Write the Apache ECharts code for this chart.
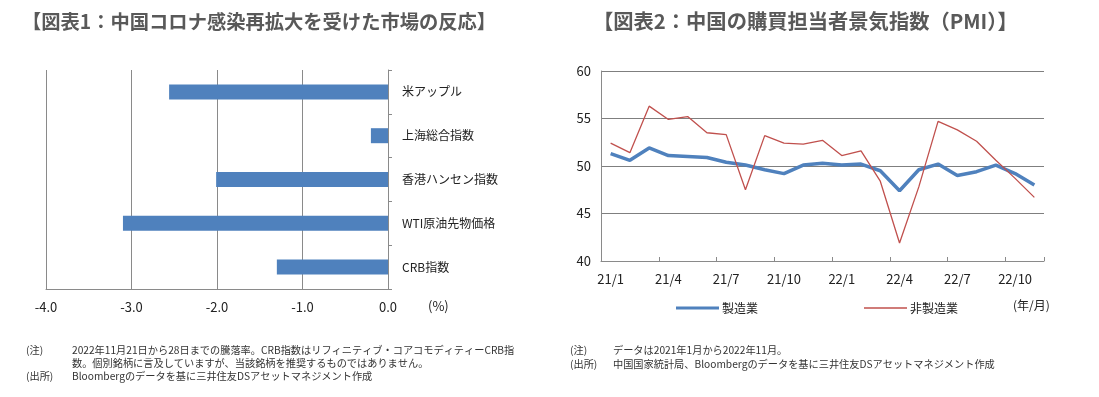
<!DOCTYPE html>
<html>
<head>
<meta charset="utf-8">
<script src="https://cdn.jsdelivr.net/npm/echarts@6/dist/echarts.min.js"></script>
<style>
  html, body { margin: 0; padding: 0; background: #fff; }
  #main { width: 1099px; height: 397px; }
</style>
</head>
<body>
<div id="main"></div>
<script type="text/javascript">
    // 図表1: 騰落率 (%)
    var marketNames = ['米アップル', '上海総合指数', '香港ハンセン指数', 'WTI原油先物価格', 'CRB指数'];
    var marketChange = [-2.56, -0.2, -2.01, -3.1, -1.3];

    // 図表2: PMI 2021/1 - 2022/11
    var months = ['21/1', '21/2', '21/3', '21/4', '21/5', '21/6', '21/7', '21/8', '21/9', '21/10', '21/11', '21/12',
                  '22/1', '22/2', '22/3', '22/4', '22/5', '22/6', '22/7', '22/8', '22/9', '22/10', '22/11'];
    var manufacturing = [51.3, 50.6, 51.9, 51.1, 51.0, 50.9, 50.4, 50.1, 49.6, 49.2, 50.1, 50.3,
                         50.1, 50.2, 49.5, 47.4, 49.6, 50.2, 49.0, 49.4, 50.1, 49.2, 48.0];
    var nonManufacturing = [52.4, 51.4, 56.3, 54.9, 55.2, 53.5, 53.3, 47.5, 53.2, 52.4, 52.3, 52.7,
                            51.1, 51.6, 48.4, 41.9, 47.8, 54.7, 53.8, 52.6, 50.6, 48.7, 46.7];

    var FONT = '"Noto Sans CJK JP", "Noto Sans", sans-serif';
    var GRAY = '#8a8a8a';
    var BLUE = '#4F81BD', RED = '#C0504D';

    function noteText(x, y, s) {
        return {
            type: 'text', left: x, top: y,
            style: { text: s, font: '10.2px ' + FONT, fill: '#333' }
        };
    }

    // hand-drawn legend, icons are plain lines
    function legendItem(x, y, name, color, w) {
        return [
            { type: 'line', shape: { x1: x, y1: y, x2: x + 43, y2: y }, style: { stroke: color, lineWidth: w } },
            { type: 'text', x: x + 46, y: y, style: { text: name, font: '12px ' + FONT, fill: '#222', verticalAlign: 'middle' } }
        ];
    }

    var chart = echarts.init(document.getElementById('main'));
    var option = {
        animation: false,
        textStyle: { fontFamily: FONT },
        grid: [
            { left: 46, right: 711, top: 70, bottom: 108 },
            { left: 601, right: 55, top: 71, bottom: 136 }
        ],
        xAxis: [
            {
                type: 'value', gridIndex: 0, min: -4, max: 0, interval: 1,
                axisLine: { show: true, lineStyle: { color: GRAY } },
                axisTick: { show: false },
                splitLine: { show: true, lineStyle: { color: GRAY } },
                axisLabel: {
                    color: '#222', fontSize: 13, margin: 12,
                    formatter: function (v) { return v.toFixed(1); }
                }
            },
            {
                type: 'category', gridIndex: 1, data: months, boundaryGap: true,
                axisLine: { lineStyle: { color: GRAY } },
                axisTick: { show: true, inside: true, length: 4, interval: 2, lineStyle: { color: GRAY } },
                axisLabel: { color: '#222', fontSize: 13, margin: 12, interval: 2 }
            }
        ],
        yAxis: [
            {
                type: 'category', gridIndex: 0, data: marketNames, inverse: true, position: 'right',
                axisLine: { show: true, onZero: false, lineStyle: { color: GRAY } },
                axisTick: { show: true, length: 4, lineStyle: { color: GRAY } },
                axisLabel: { color: '#222', fontSize: 12, margin: 14 }
            },
            {
                type: 'value', gridIndex: 1, min: 40, max: 60, interval: 5,
                axisLine: { show: true, lineStyle: { color: GRAY } },
                axisTick: { show: false },
                splitLine: { show: true, lineStyle: { color: '#7f7f7f', width: 1.2 } },
                axisLabel: { color: '#222', fontSize: 13, margin: 10 }
            }
        ],
        series: [
            {
                type: 'bar', xAxisIndex: 0, yAxisIndex: 0,
                data: marketChange, barWidth: 15,
                itemStyle: { color: BLUE }
            },
            {
                name: '製造業', type: 'line', xAxisIndex: 1, yAxisIndex: 1,
                data: manufacturing, symbol: 'none',
                lineStyle: { color: BLUE, width: 3.5 }
            },
            {
                name: '非製造業', type: 'line', xAxisIndex: 1, yAxisIndex: 1,
                data: nonManufacturing, symbol: 'none',
                lineStyle: { color: RED, width: 1.3 }
            }
        ],
        graphic: [
            {
                type: 'text', left: 22, top: 12,
                style: { text: '【図表1：中国コロナ感染再拡大を受けた市場の反応】', font: 'bold 19.3px ' + FONT, fill: '#595959' }
            },
            {
                type: 'text', left: 593, top: 11,
                style: { text: '【図表2：中国の購買担当者景気指数（PMI）】', font: 'bold 20.3px ' + FONT, fill: '#595959' }
            },
            { type: 'text', left: 428, top: 300, style: { text: '(%)', font: '13px ' + FONT, fill: '#222' } },
            { type: 'text', left: 1013, top: 299, style: { text: '(年/月)', font: '12px ' + FONT, fill: '#222' } },
            noteText(26, 345, '(注)'),
            noteText(72, 345, '2022年11月21日から28日までの騰落率。CRB指数はリフィニティブ・コアコモディティーCRB指'),
            noteText(72, 358, '数。個別銘柄に言及していますが、当該銘柄を推奨するものではありません。'),
            noteText(26, 371, '(出所)'),
            noteText(72, 371, 'Bloombergのデータを基に三井住友DSアセットマネジメント作成'),
            noteText(570, 345, '(注)'),
            noteText(613, 345, 'データは2021年1月から2022年11月。'),
            noteText(570, 359, '(出所)'),
            noteText(613, 359, '中国国家統計局、Bloombergのデータを基に三井住友DSアセットマネジメント作成')
        ].concat(legendItem(676, 308, '製造業', BLUE, 3), legendItem(864, 308, '非製造業', RED, 1.3))
    };
    chart.setOption(option);
</script>
</body>
</html>
